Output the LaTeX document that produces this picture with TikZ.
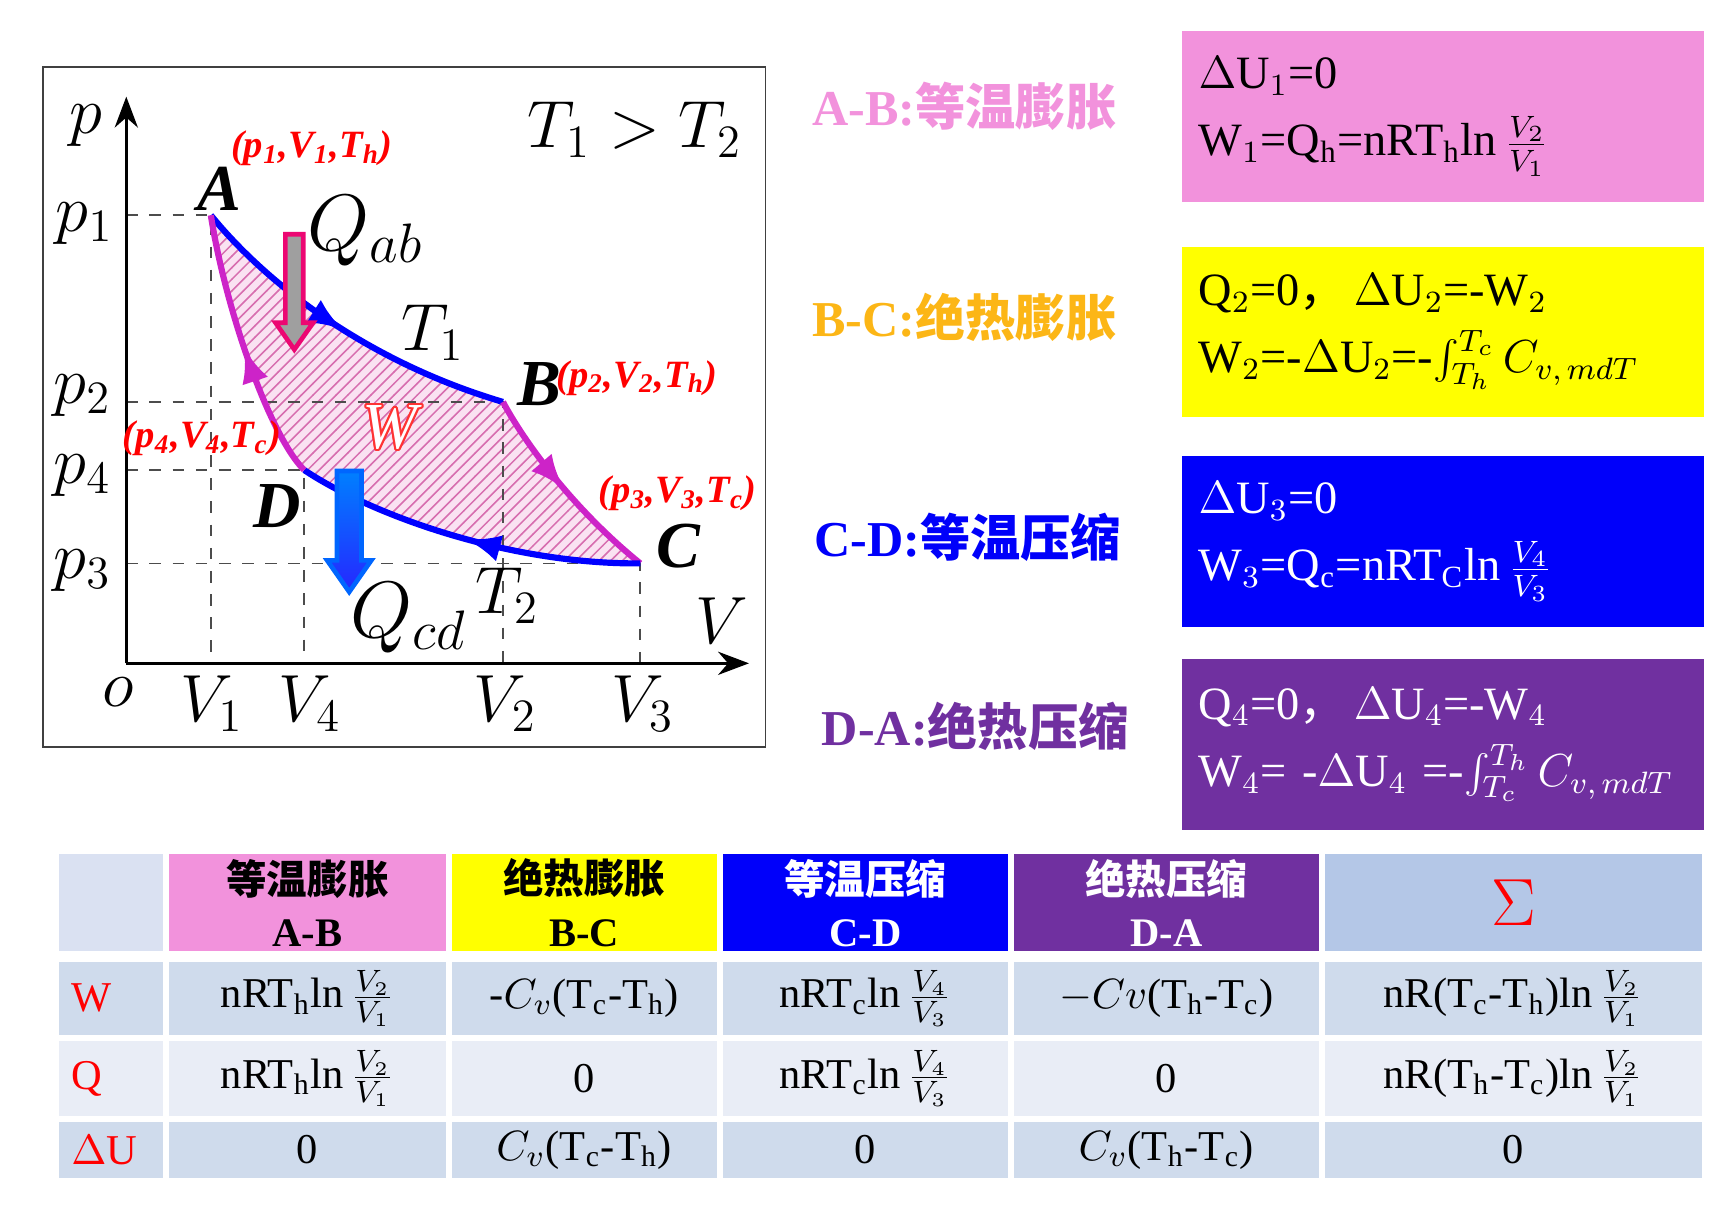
\documentclass[tikz,border=0pt]{standalone}
\usepackage{fontspec}
\setmainfont{Liberation Serif}
\newfontfamily\cjk{Noto Sans CJK SC}
\usepackage{contour}
\usetikzlibrary{arrows.meta, patterns, decorations.markings, shapes.arrows}

\definecolor{abpink}{RGB}{242,146,220}
\definecolor{bcgold}{RGB}{252,182,22}
\definecolor{bcyellow}{RGB}{255,255,0}
\definecolor{cdblue}{RGB}{0,0,250}
\definecolor{dapurple}{RGB}{112,48,160}
\definecolor{cellhead}{RGB}{218,225,242}
\definecolor{cellsum}{RGB}{180,199,231}
\definecolor{celldark}{RGB}{207,219,236}
\definecolor{celllight}{RGB}{233,237,246}
\definecolor{adiacol}{RGB}{205,35,200}
\definecolor{hatchbg}{RGB}{250,226,242}
\definecolor{hatchline}{RGB}{215,110,175}

\tikzstyle{dashline} = [dashed, black!70, thin]
\tikzstyle{isotherm} = [draw=blue, line width=1.6pt, postaction={decorate}, decoration={markings, mark=at position 0.5 with {\arrow{Latex[length=9pt,width=7pt]}}}]
\tikzstyle{adiabat} = [draw=adiacol, line width=1.6pt, postaction={decorate}, decoration={markings, mark=at position 0.5 with {\arrow{Latex[length=9pt,width=7pt]}}}]
\tikzstyle{axlabel} = [font=\fontsize{18}{18}\selectfont, inner sep=0pt]
\tikzstyle{pointlabel} = [font=\fontsize{17}{17}\selectfont\bfseries\itshape, inner sep=0pt]
\tikzstyle{statelabel} = [text=red, font=\fontsize{10}{10}\selectfont\bfseries\itshape, inner sep=0pt]
\tikzstyle{heatarrow} = [single arrow, rotate=-90, single arrow tip angle=70, line width=1.2pt]
\tikzstyle{title} = [font=\fontsize{13}{13}\selectfont\bfseries, inner sep=0pt]
\tikzstyle{formbox} = [rectangle, minimum width=4.75cm, minimum height=1.55cm, text width=4.45cm, inner sep=0.15cm, align=left, font=\fontsize{12}{17.5}\selectfont]
\tikzstyle{cell} = [rectangle, draw=white, line width=1pt, inner sep=0pt, align=center, font=\fontsize{11}{15}\selectfont]
\tikzstyle{headcell} = [cell, minimum height=0.92cm, font=\fontsize{10.5}{13.5}\selectfont\bfseries]

\begin{document}
\begin{tikzpicture}[x=0.01cm, y=-0.01cm]
    \useasboundingbox (0,0) rectangle (1568,1109);

    % p-V diagram
    \draw[black!75] (39,61) rectangle (697,680);
    \coordinate (O) at (115,604);
    \coordinate (ytop) at (115,88);
    \coordinate (xend) at (682,604);
    \coordinate (A) at (192,196);
    \coordinate (B) at (458,366);
    \coordinate (C) at (583,513);
    \coordinate (D) at (277,428);

    \path[fill=hatchbg, postaction={pattern=north east lines, pattern color=hatchline}]
        (A) .. controls (240,255) and (330,328) .. (B)
        .. controls (476,400) and (520,462) .. (C)
        .. controls (465,514) and (340,470) .. (D)
        .. controls (245,396) and (205,280) .. (A) -- cycle;

    \draw[dashline] (O |- A) -- (A) -- (A |- O);
    \draw[dashline] (O |- B) -- (B) -- (B |- O);
    \draw[dashline] (O |- C) -- (C) -- (C |- O);
    \draw[dashline] (O |- D) -- (D) -- (D |- O);

    \draw[-{Stealth[length=8pt]}, thick] (O) -- (ytop);
    \draw[-{Stealth[length=8pt]}, thick] (O) -- (xend);

    \draw[isotherm] (A) .. controls (240,255) and (330,328) .. (B);
    \draw[adiabat] (B) .. controls (476,400) and (520,462) .. (C);
    \draw[isotherm] (C) .. controls (465,514) and (340,470) .. (D);
    \draw[adiabat] (D) .. controls (245,396) and (205,280) .. (A);

    \node (qabarrow) [heatarrow, draw=magenta!75!red, fill=gray!75, inner sep=0.06cm, single arrow head extend=0.09cm, minimum height=1.05cm] at (268,260) {};
    \node (qcdarrow) [heatarrow, draw=blue!60!cyan, top color=blue!50!cyan, bottom color=blue!85, inner sep=0.09cm, single arrow head extend=0.09cm, minimum height=1.1cm] at (318,476) {};

    \node (plab) [axlabel] at (78,114) {$p$};
    \node (p1lab) [axlabel] at (77,204) {$p_1$};
    \node (p2lab) [axlabel] at (75,360) {$p_2$};
    \node (p4lab) [axlabel] at (75,433) {$p_4$};
    \node (p3lab) [axlabel] at (75,520) {$p_3$};
    \node (olab) [axlabel] at (108,630) {$o$};
    \node (v1lab) [axlabel] at (193,641) {$V_1$};
    \node (v4lab) [axlabel] at (282,641) {$V_4$};
    \node (v2lab) [axlabel] at (460,641) {$V_2$};
    \node (v3lab) [axlabel] at (585,641) {$V_3$};
    \node (vlab) [axlabel] at (657,565) {$V$};
    \node (t1lab) [axlabel] at (394,303) {$T_1$};
    \node (t2lab) [axlabel] at (462,542) {$T_2$};
    \node (tcmp) [axlabel] at (578,118) {$T_1 > T_2$};
    \node (qablab) [axlabel, font=\fontsize{21}{21}\selectfont] at (333,210) {$Q_{ab}$};
    \node (qcdlab) [axlabel, font=\fontsize{21}{21}\selectfont] at (372,563) {$Q_{cd}$};
    \node (wlab) [inner sep=0pt, font=\fontsize{17}{17}\selectfont\itshape] at (355,390) {\contourlength{0.5pt}\contour{red!80}{\textcolor{white}{W}}};

    \node (alab) [pointlabel] at (200,172) {A};
    \node (blab) [pointlabel] at (491,350) {B};
    \node (clab) [pointlabel] at (618,497) {C};
    \node (dlab) [pointlabel] at (252,461) {D};
    \node (astate) [statelabel] at (284,135) {(p\textsubscript{1},V\textsubscript{1},T\textsubscript{h})};
    \node (bstate) [statelabel] at (580,344) {(p\textsubscript{2},V\textsubscript{2},T\textsubscript{h})};
    \node (cstate) [statelabel] at (617,449) {(p\textsubscript{3},V\textsubscript{3},T\textsubscript{c})};
    \node (dstate) [statelabel] at (184,399) {(p\textsubscript{4},V\textsubscript{4},T\textsubscript{c})};

    % Process boxes
    \node (abtitle) [title, text=abpink] at (878,97) {A-B:{\cjk 等温膨胀}};
    \node (bctitle) [title, text=bcgold] at (878,289) {B-C:{\cjk 绝热膨胀}};
    \node (cdtitle) [title, text=cdblue] at (881,489) {C-D:{\cjk 等温压缩}};
    \node (datitle) [title, text=dapurple] at (888,661) {D-A:{\cjk 绝热压缩}};

    \node (abbox) [formbox, fill=abpink] at (1314,106) {$\Delta$U$_1$=0\\W$_1$=Q$_\mathrm{h}$=nRT$_\mathrm{h}$ln\,$\frac{V_2}{V_1}$};
    \node (bcbox) [formbox, fill=bcyellow] at (1314,302) {Q$_2$=0{\cjk ，}\,$\Delta$U$_2$=-W$_2$\\W$_2$=-$\Delta$U$_2$=-$\int_{T_h}^{T_c}C_{v,\,mdT}$};
    \node (cdbox) [formbox, fill=cdblue, text=white] at (1314,493) {$\Delta$U$_3$=0\\W$_3$=Q$_\mathrm{c}$=nRT$_\mathrm{C}$ln\,$\frac{V_4}{V_3}$};
    \node (dabox) [formbox, fill=dapurple, text=white] at (1314,678) {Q$_4$=0{\cjk ，}\,$\Delta$U$_4$=-W$_4$\\W$_4$=~-$\Delta$U$_4$~=-$\int_{T_c}^{T_h}C_{v,\,mdT}$};

    % Table
    \node (h0) [headcell, fill=cellhead, minimum width=0.98cm] at (101,822) {};
    \node (h1) [headcell, fill=abpink, minimum width=2.56cm] at (280,822) {{\cjk 等温膨胀}\\A-B};
    \node (h2) [headcell, fill=bcyellow, minimum width=2.45cm] at (532,822) {{\cjk 绝热膨胀}\\B-C};
    \node (h3) [headcell, fill=cdblue, text=white, minimum width=2.63cm] at (788,822) {{\cjk 等温压缩}\\C-D};
    \node (h4) [headcell, fill=dapurple, text=white, minimum width=2.81cm] at (1062,822) {{\cjk 绝热压缩}\\D-A};
    \node (h5) [headcell, fill=cellsum, text=red, minimum width=3.47cm, font=\fontsize{16}{16}\selectfont] at (1378,822) {$\Sigma$};

    \node (w0) [cell, fill=celldark, minimum width=0.98cm, minimum height=0.70cm, text width=0.72cm, align=left, text=red] at (101,909) {W};
    \node (w1) [cell, fill=celldark, minimum width=2.56cm, minimum height=0.70cm] at (280,909) {nRT$_\mathrm{h}$ln\,$\frac{V_2}{V_1}$};
    \node (w2) [cell, fill=celldark, minimum width=2.45cm, minimum height=0.70cm] at (532,909) {-$C_v$(T$_\mathrm{c}$-T$_\mathrm{h}$)};
    \node (w3) [cell, fill=celldark, minimum width=2.63cm, minimum height=0.70cm] at (788,909) {nRT$_\mathrm{c}$ln\,$\frac{V_4}{V_3}$};
    \node (w4) [cell, fill=celldark, minimum width=2.81cm, minimum height=0.70cm] at (1062,909) {$-Cv$(T$_\mathrm{h}$-T$_\mathrm{c}$)};
    \node (w5) [cell, fill=celldark, minimum width=3.47cm, minimum height=0.70cm] at (1378,909) {nR(T$_\mathrm{c}$-T$_\mathrm{h}$)ln\,$\frac{V_2}{V_1}$};

    \node (q0) [cell, fill=celllight, minimum width=0.98cm, minimum height=0.72cm, text width=0.72cm, align=left, text=red] at (101,982) {Q};
    \node (q1) [cell, fill=celllight, minimum width=2.56cm, minimum height=0.72cm] at (280,982) {nRT$_\mathrm{h}$ln\,$\frac{V_2}{V_1}$};
    \node (q2) [cell, fill=celllight, minimum width=2.45cm, minimum height=0.72cm] at (532,982) {0};
    \node (q3) [cell, fill=celllight, minimum width=2.63cm, minimum height=0.72cm] at (788,982) {nRT$_\mathrm{c}$ln\,$\frac{V_4}{V_3}$};
    \node (q4) [cell, fill=celllight, minimum width=2.81cm, minimum height=0.72cm] at (1062,982) {0};
    \node (q5) [cell, fill=celllight, minimum width=3.47cm, minimum height=0.72cm] at (1378,982) {nR(T$_\mathrm{h}$-T$_\mathrm{c}$)ln\,$\frac{V_2}{V_1}$};

    \node (u0) [cell, fill=celldark, minimum width=0.98cm, minimum height=0.55cm, text width=0.72cm, align=left, text=red] at (101,1047) {$\Delta$U};
    \node (u1) [cell, fill=celldark, minimum width=2.56cm, minimum height=0.55cm] at (280,1047) {0};
    \node (u2) [cell, fill=celldark, minimum width=2.45cm, minimum height=0.55cm] at (532,1047) {$C_v$(T$_\mathrm{c}$-T$_\mathrm{h}$)};
    \node (u3) [cell, fill=celldark, minimum width=2.63cm, minimum height=0.55cm] at (788,1047) {0};
    \node (u4) [cell, fill=celldark, minimum width=2.81cm, minimum height=0.55cm] at (1062,1047) {$C_v$(T$_\mathrm{h}$-T$_\mathrm{c}$)};
    \node (u5) [cell, fill=celldark, minimum width=3.47cm, minimum height=0.55cm] at (1378,1047) {0};

\end{tikzpicture}
\end{document}
